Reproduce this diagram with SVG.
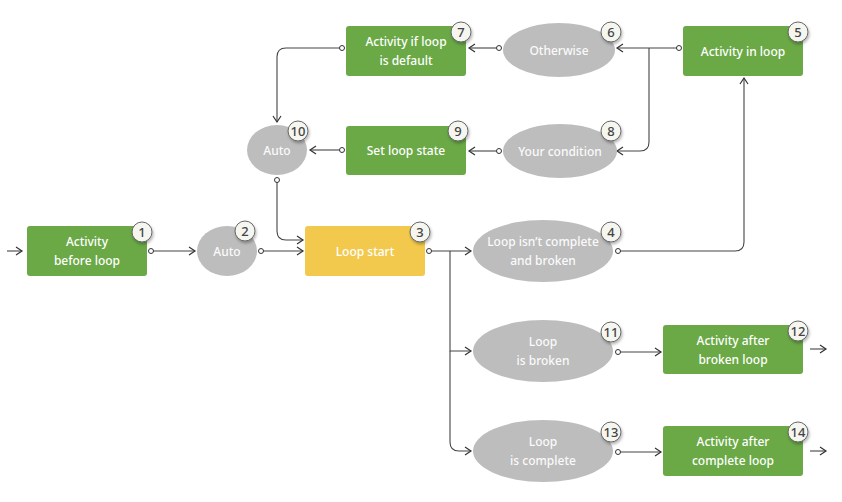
<svg xmlns="http://www.w3.org/2000/svg" width="842" height="502" viewBox="0 0 842 502">
<defs>
<marker id="arr" markerWidth="10" markerHeight="10" refX="7" refY="5" orient="auto" markerUnits="userSpaceOnUse">
<path d="M1,1 L7,5 L1,9" fill="none" stroke="#333" stroke-width="1.2"/>
</marker>
<filter id="sh" x="-50%" y="-50%" width="200%" height="200%">
<feDropShadow dx="1" dy="2" stdDeviation="1.5" flood-color="#000" flood-opacity="0.3"/>
</filter>
<style>
.act{fill:#6aa946}
.yel{fill:#f2c94c}
.ell{fill:#bdbdbd}
.t{font-family:"Noto Sans","Open Sans",sans-serif;font-size:12px;font-weight:500;fill:#fff;text-anchor:middle}
.te{font-family:"Noto Sans","Open Sans",sans-serif;font-size:12px;font-weight:500;fill:#fafafa;text-anchor:middle}
.bc{fill:#f6f6f1;stroke:#666;stroke-width:1;filter:url(#sh)}
.bt{font-family:"Noto Sans","Open Sans",sans-serif;font-size:13px;font-weight:500;fill:#444;text-anchor:middle}
.c{fill:none;stroke:#444;stroke-width:1.1}
.dot{fill:#fff;stroke:#333;stroke-width:1}
</style>
</defs>
<rect width="842" height="502" fill="#fff"/>

<g id="connectors">
<path class="c" d="M7,251 H22" marker-end="url(#arr)"/>
<path class="c" d="M151,251 H195" marker-end="url(#arr)"/>
<path class="c" d="M261,251 H303" marker-end="url(#arr)"/>
<path class="c" d="M277,180 V231 Q277,240 286,240 H303" marker-end="url(#arr)"/>
<path class="c" d="M429,251 H471" marker-end="url(#arr)"/>
<path class="c" d="M450,251 V351 H471" marker-end="url(#arr)"/>
<path class="c" d="M450,351 V442 Q450,451 459,451 H471" marker-end="url(#arr)"/>
<path class="c" d="M618,251 H735 Q744,251 744,242 V78" marker-end="url(#arr)"/>
<path class="c" d="M679,48 H617" marker-end="url(#arr)"/>
<path class="c" d="M649,48 V142 Q649,151 640,151 H617" marker-end="url(#arr)"/>
<path class="c" d="M499,48 H469" marker-end="url(#arr)"/>
<path class="c" d="M499,151 H469" marker-end="url(#arr)"/>
<path class="c" d="M342,48 H286 Q277,48 277,57 V122" marker-end="url(#arr)"/>
<path class="c" d="M342,150 H310" marker-end="url(#arr)"/>
<path class="c" d="M618,352 H661" marker-end="url(#arr)"/>
<path class="c" d="M618,452 H661" marker-end="url(#arr)"/>
<path class="c" d="M810,349 H826" marker-end="url(#arr)"/>
<path class="c" d="M810,451 H826" marker-end="url(#arr)"/>
<circle class="dot" cx="151" cy="251" r="2.5"/>
<circle class="dot" cx="261" cy="251" r="2.5"/>
<circle class="dot" cx="277" cy="180" r="2.5"/>
<circle class="dot" cx="429" cy="251" r="2.5"/>
<circle class="dot" cx="618" cy="251" r="2.5"/>
<circle class="dot" cx="679" cy="48" r="2.5"/>
<circle class="dot" cx="499" cy="48" r="2.5"/>
<circle class="dot" cx="499" cy="151" r="2.5"/>
<circle class="dot" cx="342" cy="48" r="2.5"/>
<circle class="dot" cx="342" cy="150" r="2.5"/>
<circle class="dot" cx="618" cy="352" r="2.5"/>
<circle class="dot" cx="618" cy="452" r="2.5"/>
</g>

<g id="n1">
<rect class="act" x="27" y="226" width="120" height="50" rx="3"/>
<text class="t" x="87" y="246">Activity</text>
<text class="t" x="87" y="265">before loop</text>
<circle class="bc" cx="142" cy="232" r="10"/><text class="bt" x="142" y="237">1</text>
</g>
<g id="n2">
<ellipse class="ell" cx="227" cy="251" rx="30" ry="25"/>
<text class="te" x="227" y="255.5">Auto</text>
<circle class="bc" cx="245" cy="231" r="10"/><text class="bt" x="245" y="236">2</text>
</g>
<g id="n3">
<rect class="yel" x="305" y="226" width="120" height="50" rx="3"/>
<text class="t" x="365" y="255.5">Loop start</text>
<circle class="bc" cx="420" cy="232" r="10"/><text class="bt" x="420" y="237">3</text>
</g>
<g id="n4">
<ellipse class="ell" cx="543" cy="251" rx="70" ry="31"/>
<text class="te" x="543" y="246">Loop isn’t complete</text>
<text class="te" x="543" y="265">and broken</text>
<circle class="bc" cx="611" cy="232" r="10"/><text class="bt" x="611" y="237">4</text>
</g>
<g id="n5">
<rect class="act" x="683" y="26" width="120" height="50" rx="3"/>
<text class="t" x="743" y="55.5">Activity in loop</text>
<circle class="bc" cx="798" cy="32" r="10"/><text class="bt" x="798" y="37">5</text>
</g>
<g id="n6">
<ellipse class="ell" cx="559" cy="50" rx="56" ry="27"/>
<text class="te" x="559" y="54.5">Otherwise</text>
<circle class="bc" cx="611" cy="32" r="10"/><text class="bt" x="611" y="37">6</text>
</g>
<g id="n7">
<rect class="act" x="346" y="26" width="120" height="50" rx="3"/>
<text class="t" x="406" y="46">Activity if loop</text>
<text class="t" x="406" y="65">is default</text>
<circle class="bc" cx="461" cy="32" r="10"/><text class="bt" x="461" y="37">7</text>
</g>
<g id="n8">
<ellipse class="ell" cx="560" cy="151" rx="57" ry="27"/>
<text class="te" x="560" y="155.5">Your condition</text>
<circle class="bc" cx="611" cy="131" r="10"/><text class="bt" x="611" y="136">8</text>
</g>
<g id="n9">
<rect class="act" x="346" y="126" width="120" height="49" rx="3"/>
<text class="t" x="406" y="155">Set loop state</text>
<circle class="bc" cx="458" cy="131" r="10"/><text class="bt" x="458" y="136">9</text>
</g>
<g id="n10">
<ellipse class="ell" cx="277" cy="150" rx="30" ry="25"/>
<text class="te" x="277" y="154.5">Auto</text>
<circle class="bc" cx="298" cy="131" r="10"/><text class="bt" x="298" y="136">10</text>
</g>
<g id="n11">
<ellipse class="ell" cx="543" cy="351" rx="70" ry="31"/>
<text class="te" x="543" y="346">Loop</text>
<text class="te" x="543" y="365">is broken</text>
<circle class="bc" cx="611" cy="332" r="10"/><text class="bt" x="611" y="337">11</text>
</g>
<g id="n12">
<rect class="act" x="663" y="325" width="140" height="49" rx="3"/>
<text class="t" x="733" y="345">Activity after</text>
<text class="t" x="733" y="364">broken loop</text>
<circle class="bc" cx="798" cy="331" r="10"/><text class="bt" x="798" y="336">12</text>
</g>
<g id="n13">
<ellipse class="ell" cx="543" cy="451" rx="70" ry="31"/>
<text class="te" x="543" y="446">Loop</text>
<text class="te" x="543" y="465">is complete</text>
<circle class="bc" cx="611" cy="432" r="10"/><text class="bt" x="611" y="437">13</text>
</g>
<g id="n14">
<rect class="act" x="663" y="426" width="140" height="50" rx="3"/>
<text class="t" x="733" y="446">Activity after</text>
<text class="t" x="733" y="465">complete loop</text>
<circle class="bc" cx="798" cy="432" r="10"/><text class="bt" x="798" y="437">14</text>
</g>
</svg>
